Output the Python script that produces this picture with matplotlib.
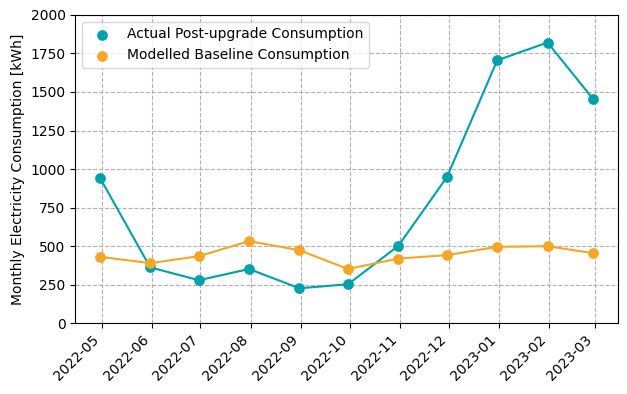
import matplotlib
matplotlib.use('Agg')
import matplotlib.pyplot as plt
import matplotlib.dates as mdates
import pandas as pd

# readings are stamped at the last day of the previous month
dates = ['2022-04-30', '2022-05-31', '2022-06-30', '2022-07-31', '2022-08-31', '2022-09-30',
         '2022-10-31', '2022-11-30', '2022-12-31', '2023-01-31', '2023-02-28']
actual = [944, 362, 278, 351, 226, 252, 501, 948, 1706, 1821, 1456]
baseline = [430, 389, 434, 532, 473, 351, 419, 441, 495, 499, 454]

x = pd.to_datetime(dates)
teal = '#00a1ae'
orange = '#f6a623'

fig, ax = plt.subplots(figsize=(6.27, 3.94), dpi=100)
ax.scatter(x, actual, s=45, color=teal, label='Actual Post-upgrade Consumption', zorder=3)
ax.plot(x, actual, color=teal, zorder=3)
ax.scatter(x, baseline, s=45, color=orange, label='Modelled Baseline Consumption', zorder=3)
ax.plot(x, baseline, color=orange, zorder=3)

ax.xaxis.set_major_locator(mdates.MonthLocator())
ax.xaxis.set_major_formatter(mdates.DateFormatter('%Y-%m'))
ax.set_ylim(0, 2000)
ax.set_ylabel('Monthly Electricity Consumption [kWh]')
ax.grid(True, linestyle='--', color='#b0b0b0')
ax.set_axisbelow(True)
plt.setp(ax.get_xticklabels(), rotation=45, ha='right')
ax.legend(loc='upper left')

fig.subplots_adjust(left=0.12, right=0.985, top=0.962, bottom=0.18)
plt.savefig('out.png')
